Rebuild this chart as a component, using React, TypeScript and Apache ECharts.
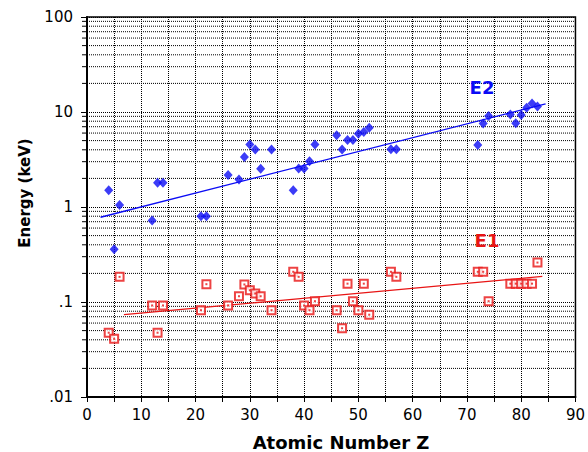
import React, { useEffect, useRef } from "react";
import * as echarts from "echarts";

// Atomic numbers (Z) of the measured elements
const zValues = [4, 5, 6, 12, 13, 14, 21, 22, 26, 28, 29, 30, 31, 32, 34, 38, 39, 40, 41, 42, 46, 47, 48, 49, 50, 51, 52, 56, 57, 72, 73, 74, 78, 79, 80, 81, 82, 83];
// E2 energies (keV)
const e2Values = [1.5, 0.36, 1.05, 0.72, 1.8, 1.8, 0.8, 0.8, 2.17, 1.95, 3.35, 4.56, 4.04, 2.53, 4.04, 1.5, 2.55, 2.55, 3.04, 4.56, 5.68, 4.04, 5.06, 5.06, 5.91, 6.14, 6.84, 4.06, 4.06, 4.49, 7.59, 9.05, 9.44, 7.6, 9.3, 11.1, 12.3, 11.4];
// E1 energies (keV), same Z order
const e1Values = [0.0475, 0.041, 0.184, 0.092, 0.0475, 0.092, 0.082, 0.154, 0.092, 0.115, 0.153, 0.133, 0.123, 0.115, 0.082, 0.208, 0.184, 0.092, 0.082, 0.102, 0.082, 0.053, 0.156, 0.102, 0.082, 0.156, 0.0735, 0.208, 0.184, 0.208, 0.208, 0.102, 0.156, 0.156, 0.156, 0.156, 0.156, 0.26];
// Fit lines (end points)
const e2FitZ = [2.5, 84.5];
const e2FitE = [0.78, 12.2];
const e1FitZ = [6.8, 83.9];
const e1FitE = [0.0735, 0.186];
// Axis tick labels
const yTickLabels = [".01", ".1", "1", "10", "100"];
const xMin = 0;
const xMax = 90;
// Minor log grid values
const minorGrid = [0.02, 0.03, 0.04, 0.05, 0.06, 0.07, 0.08, 0.09, 0.2, 0.3, 0.4, 0.5, 0.6, 0.7, 0.8, 0.9, 2, 3, 4, 5, 6, 7, 8, 9, 20, 30, 40, 50, 60, 70, 80, 90];

const BLUE = "#0b0bf5";
const RED = "#e81414";
const FONT = "DejaVu Sans";
const GRID_COLOR = "#000";

export default function App() {
  const ref = useRef<HTMLDivElement>(null);
  useEffect(() => {
    if (!ref.current) return;
    const chart = echarts.init(ref.current, undefined, { renderer: "svg" });
    const dotted = { color: GRID_COLOR, width: 1, type: [1, 1] as any };
    chart.setOption({
      animation: false,
      backgroundColor: "#fff",
      grid: {
        left: 87,
        right: 12,
        top: 17,
        bottom: 55,
        show: true,
        borderColor: "#000",
        borderWidth: 1.5,
      },
      xAxis: {
        type: "value",
        min: xMin,
        max: xMax,
        interval: 5,
        axisLine: { show: true, onZero: false, lineStyle: { color: "#000", width: 2 } },
        axisTick: { show: true, length: 5, lineStyle: { color: "#000", width: 1 } },
        axisLabel: {
          color: "#000",
          fontFamily: FONT,
          fontSize: 15,
          margin: 10,
          formatter: (v: number) => (v % 10 === 0 ? String(v) : ""),
        },
        splitLine: { show: true, lineStyle: dotted },
      },
      yAxis: {
        type: "log",
        logBase: 10,
        min: 0.01,
        max: 100,
        axisLine: { show: true, lineStyle: { color: "#000", width: 2 } },
        axisTick: { show: true, length: 6, lineStyle: { color: "#000", width: 1 } },
        axisLabel: {
          color: "#000",
          fontFamily: FONT,
          fontSize: 15,
          margin: 14,
          formatter: (v: number) => yTickLabels[Math.round(Math.log10(v)) + 2] ?? "",
        },
        splitLine: { show: true, lineStyle: dotted },
      },
      graphic: [
        {
          type: "text",
          x: 25,
          y: 193,
          rotation: Math.PI / 2,
          style: {
            text: "Energy (keV)",
            fontFamily: FONT,
            fontWeight: "bold",
            fontSize: 15,
            fill: "#000",
            align: "center",
            verticalAlign: "middle",
          },
        },
        {
          type: "text",
          x: 341,
          y: 442,
          style: {
            text: "Atomic Number Z",
            fontFamily: FONT,
            fontWeight: "bold",
            fontSize: 18,
            fill: "#000",
            align: "center",
            verticalAlign: "middle",
          },
        },
        {
          type: "text",
          x: 482,
          y: 87,
          style: {
            text: "E2",
            fontFamily: FONT,
            fontWeight: "bold",
            fontSize: 18,
            fill: BLUE,
            align: "center",
            verticalAlign: "middle",
          },
          z: 10,
        },
        {
          type: "text",
          x: 487,
          y: 240,
          style: {
            text: "E1",
            fontFamily: FONT,
            fontWeight: "bold",
            fontSize: 18,
            fill: RED,
            align: "center",
            verticalAlign: "middle",
          },
          z: 10,
        },
      ],
      series: [
        {
          type: "custom",
          clip: false,
          silent: true,
          z: 1,
          data: minorGrid.map((v) => [xMin, v]),
          encode: { x: 0, y: 1 },
          renderItem: (params: any, api: any) => {
            const v = api.value(1);
            const p0 = api.coord([xMin, v]);
            const p1 = api.coord([xMax, v]);
            return {
              type: "group",
              children: [
                {
                  type: "line",
                  shape: { x1: p0[0], y1: p0[1], x2: p1[0], y2: p1[1] },
                  style: { stroke: GRID_COLOR, lineWidth: 1, lineDash: [1, 1] },
                },
                {
                  type: "line",
                  shape: { x1: p0[0] - 5, y1: p0[1], x2: p0[0], y2: p0[1] },
                  style: { stroke: "#000", lineWidth: 1 },
                },
              ],
            };
          },
        },
        {
          type: "line",
          name: "E2 fit",
          data: e2FitZ.map((z, i) => [z, e2FitE[i]]),
          showSymbol: false,
          lineStyle: { color: BLUE, width: 1.3 },
          z: 3,
        },
        {
          type: "line",
          name: "E1 fit",
          data: e1FitZ.map((z, i) => [z, e1FitE[i]]),
          showSymbol: false,
          lineStyle: { color: RED, width: 1.3 },
          z: 3,
        },
        {
          type: "scatter",
          name: "E2",
          data: zValues.map((z, i) => [z, e2Values[i]]),
          symbol: "diamond",
          symbolSize: [9, 10],
          itemStyle: { color: BLUE },
          z: 4,
        },
        {
          type: "scatter",
          name: "E1",
          data: zValues.map((z, i) => [z, e1Values[i]]),
          symbol: "rect",
          symbolSize: 8,
          itemStyle: { color: "#fff", borderColor: RED, borderWidth: 2 },
          z: 4,
        },
        {
          type: "scatter",
          name: "E1 centre",
          data: zValues.map((z, i) => [z, e1Values[i]]),
          symbol: "rect",
          symbolSize: 2,
          itemStyle: { color: RED },
          silent: true,
          z: 5,
        },
      ],
    });
    return () => chart.dispose();
  }, []);
  return (
    <div
      ref={ref}
      style={{ position: "fixed", left: 0, top: 0, width: 588, height: 452, background: "#fff" }}
    />
  );
}
